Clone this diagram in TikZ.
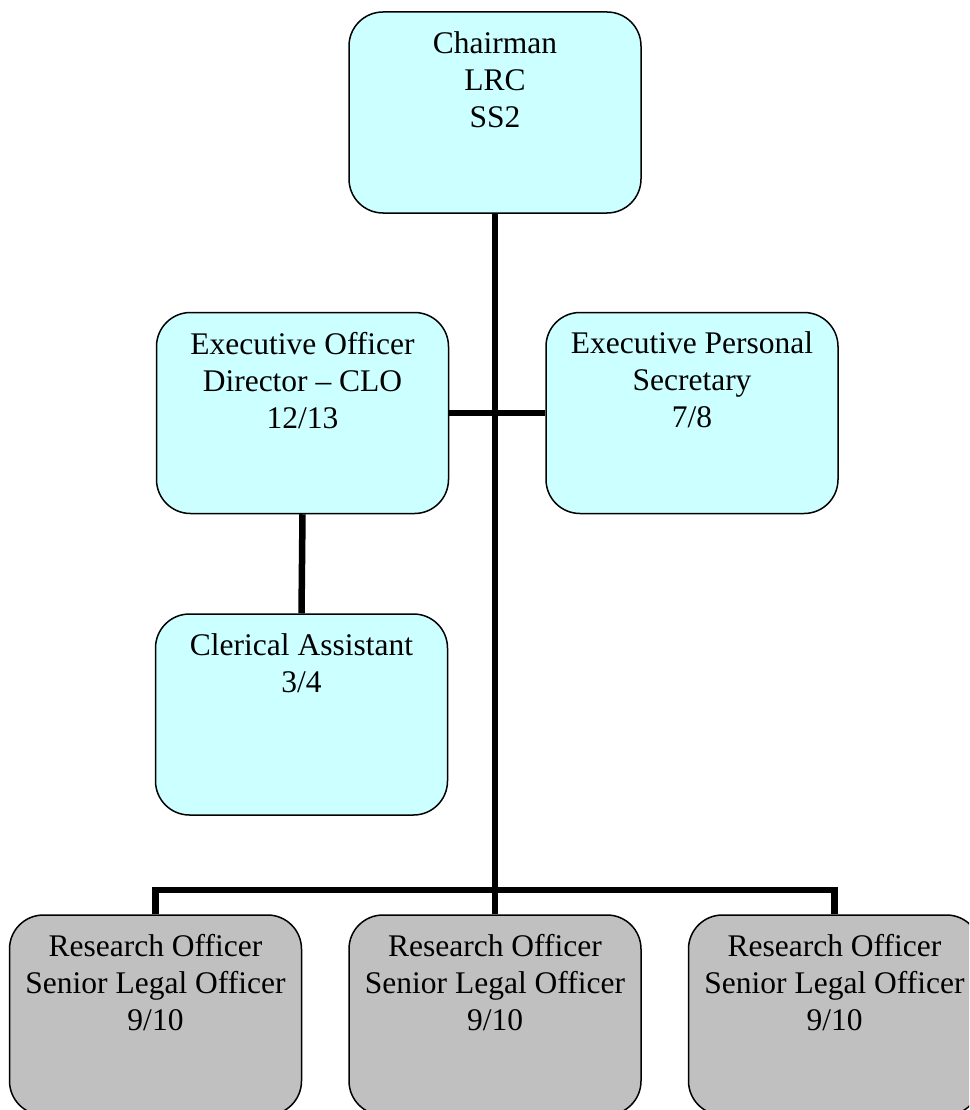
\documentclass[tikz,border=0pt]{standalone}
\usepackage{fontspec}
\setmainfont{Liberation Serif}
\usetikzlibrary{calc}
\definecolor{boxcyan}{HTML}{CCFFFF}
\definecolor{boxgray}{HTML}{C0C0C0}
\begin{document}
\begin{tikzpicture}[x=1pt,y=-1pt,
  orgbox/.style={draw=black, line width=1.5pt, rounded corners=34pt, minimum width=292pt, minimum height=201pt, inner sep=0pt},
  cyanbox/.style={orgbox, fill=boxcyan},
  graybox/.style={orgbox, fill=boxgray},
  lbl/.style={anchor=north, inner sep=0pt, align=center, font=\fontsize{31.5}{37}\selectfont},
  conn/.style={line width=6.5pt}]
\useasboundingbox (0,0) rectangle (969,1110);
\fill[white] (0,0) rectangle (969,1110);
\clip (0,0) rectangle (969,1110);
% boxes
\node[cyanbox] (chair) at (495,112.5) {};
\node[cyanbox] (exec) at (302.5,413) {};
\node[cyanbox] (eps) at (692,413) {};
\node[cyanbox] (cler) at (301.5,714.5) {};
\node[graybox, minimum height=200pt] (r1) at (155.5,1015) {};
\node[graybox, minimum height=200pt] (r2) at (495,1015) {};
\node[graybox, minimum height=200pt] (r3) at (834.5,1015) {};
% connectors
\coordinate (bus) at (495,890);
\draw[conn] (chair.south) -- (bus);
\draw[conn] (r1.north) |- (bus) -| (r3.north);
\draw[conn] (bus) -- (r2.north);
\draw[conn] (exec.east) -- (eps.west);
\draw[conn] (exec.south) -- (cler.north);
% labels
\node[lbl] at ($(chair.north)+(0,20)$) {Chairman\\LRC\\SS2};
\node[lbl] at ($(exec.north)+(0,20)$) {Executive Officer\\Director – CLO\\12/13};
\node[lbl] at ($(eps.north)+(0,20)$) {Executive Personal\\Secretary\\7/8};
\node[lbl] at ($(cler.north)+(0,20)$) {Clerical Assistant\\3/4};
\node[lbl] at ($(r1.north)+(0,20)$) {Research Officer\\Senior Legal Officer\\9/10};
\node[lbl] at ($(r2.north)+(0,20)$) {Research Officer\\Senior Legal Officer\\9/10};
\node[lbl] at ($(r3.north)+(0,20)$) {Research Officer\\Senior Legal Officer\\9/10};
\end{tikzpicture}
\end{document}
